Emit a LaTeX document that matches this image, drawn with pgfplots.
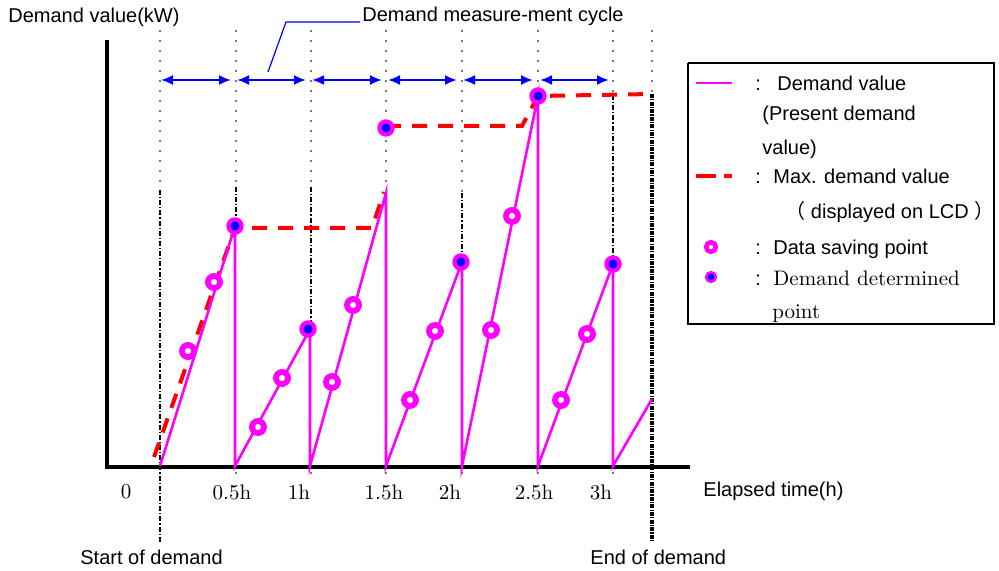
\documentclass[border=0pt]{standalone}
\usepackage{fontspec}
\usepackage{pgfplots}
\pgfplotsset{compat=1.18}
\usetikzlibrary{arrows.meta}
\newfontfamily\arial{Liberation Sans}
\newfontfamily\cjk{Noto Sans CJK JP}
\definecolor{dgray}{RGB}{120,120,120}
\definecolor{mg}{RGB}{255,0,255}
\definecolor{bl}{RGB}{0,0,255}
\definecolor{rd}{RGB}{255,0,0}
\begin{document}
\begin{tikzpicture}[x=0.5pt,y=0.5pt,
  sf/.style={font={\arial\fontsize{10}{12}\selectfont}, inner sep=0pt},
  rm/.style={font={\fontsize{10.5}{12}\selectfont}, inner sep=0pt}]
\useasboundingbox (0,0) rectangle (999,571);
\begin{axis}[at={(0,0)},anchor=south west, scale only axis,
  width=499.5pt, height=285.5pt,
  xmin=0,xmax=999,ymin=0,ymax=571, y dir=reverse, hide axis, clip=false,
  gdot/.style={dgray, line width=1.1pt, dash pattern=on 1pt off 4pt},
  bdash/.style={black, line width=0.8pt, dash pattern=on 2.5pt off 1pt on 0.6pt off 1pt},
  barrow/.style={bl, line width=1pt, {Latex[length=6pt,width=5pt]}-{Latex[length=6pt,width=5pt]}},
  redd/.style={rd, line width=2pt, dash pattern=on 7.5pt off 5.5pt},
  mag/.style={mg, line width=1.3pt},
  ring/.style={only marks, mark=*, mark size=3pt, mark options={draw=mg, fill=white, line width=2.9pt}},
  det/.style={only marks, mark=*, mark size=3.3pt, mark options={draw=mg, fill=bl, line width=2.1pt}},
]
% gray dotted guide lines
\addplot[gdot] coordinates {(160,30)(160,183)};
\addplot[gdot] coordinates {(236,30)(236,186)};
\addplot[gdot] coordinates {(311,30)(311,186)};
\addplot[gdot] coordinates {(386,30)(386,190)};
\addplot[gdot] coordinates {(462,30)(462,192)};
\addplot[gdot] coordinates {(538,30)(538,88)};
\addplot[gdot] coordinates {(613,30)(613,93)};
\addplot[gdot] coordinates {(652,30)(652,92)};
% small stubs below the x axis
\addplot[gdot] coordinates {(236,472)(236,478)};
\addplot[gdot] coordinates {(311,472)(311,478)};
\addplot[gdot] coordinates {(386,472)(386,478)};
\addplot[gdot] coordinates {(462,472)(462,478)};
\addplot[gdot] coordinates {(538,472)(538,478)};
\addplot[gdot] coordinates {(613,472)(613,478)};
% black dashed lines
\addplot[bdash] coordinates {(160,190)(160,542)};
\addplot[bdash] coordinates {(236,187)(236,222)};
\addplot[bdash] coordinates {(311,187)(311,325)};
\addplot[bdash] coordinates {(462,193)(462,258)};
\addplot[bdash] coordinates {(613,95)(613,260)};
\addplot[black, line width=1.6pt, dash pattern=on 2pt off 0.6pt on 0.6pt off 0.6pt] coordinates {(652,94)(652,542)};
% axes
\addplot[black, line width=1.6pt] coordinates {(107,40)(107,467)(690,467)};
% blue arrows
\addplot[barrow] coordinates {(161,80)(231,80)};
\addplot[barrow] coordinates {(237,80)(306,80)};
\addplot[barrow] coordinates {(312,80)(382,80)};
\addplot[barrow] coordinates {(388,80)(457,80)};
\addplot[barrow] coordinates {(463,80)(533,80)};
\addplot[barrow] coordinates {(540,80)(609,80)};
\addplot[bl, line width=0.6pt] coordinates {(268,72)(286,22)(360,22)};
% red max demand
\addplot[redd] coordinates {(154,457)(235,228)(372,228)(384,192)};
\addplot[redd] coordinates {(386,126)(522,126)(538,96)(653,94)};
% magenta demand value
\addplot[mag] coordinates {(160,466)(235,226)(235,466)(310,329)(310,466)(386,193)(386,466)(462,262)(462,466)(538,96)(538,466)(613,264)(613,466)(652,399)};
% markers
\addplot[ring] coordinates {(188,351)(214,282)(258,427)(282,378)(332,382)(353,305)(410,400)(435,331)(491,330)(512,216)(561,400)(587,334)};
\addplot[det] coordinates {(235,226)(308,329)(386,128)(461,262)(538,96)(613,264)};
% legend box
\addplot[black, line width=1.3pt] coordinates {(688,63)(994,63)(994,324)(688,324)(688,63)};
\addplot[mg, line width=0.7pt] coordinates {(696,83)(732,83)};
\addplot[rd, line width=2pt] coordinates {(696,176)(716,176)};
\addplot[rd, line width=2pt] coordinates {(724,176)(732,176)};
\addplot[only marks, mark=*, mark size=2.4pt, mark options={draw=mg, fill=white, line width=2.3pt}] coordinates {(711,247)};
\addplot[only marks, mark=*, mark size=2.4pt, mark options={draw=mg, fill=bl, line width=1.3pt}] coordinates {(711,277)};
% texts
\node[sf, anchor=west] at (axis cs:8,17) {Demand value(kW)};
\node[sf, anchor=west] at (axis cs:362,16) {Demand measure-ment cycle};
\node[sf, anchor=west] at (axis cs:703,491) {Elapsed time(h)};
\node[sf, anchor=west] at (axis cs:80,557) {Start of demand};
\node[sf, anchor=west] at (axis cs:590,557) {End of demand};
\node[rm] at (axis cs:126,492) {0};
\node[rm] at (axis cs:232,492) {0.5h};
\node[rm] at (axis cs:299,492) {1h};
\node[rm] at (axis cs:384,492) {1.5h};
\node[rm] at (axis cs:450,492) {2h};
\node[rm] at (axis cs:534,492) {2.5h};
\node[rm] at (axis cs:601,492) {3h};
% legend texts
\node[sf, anchor=west] at (axis cs:755,86) {\strut:};
\node[sf, anchor=west] at (axis cs:755,179) {\strut:};
\node[sf, anchor=west] at (axis cs:755,250) {\strut:};
\node[sf, anchor=west] at (axis cs:755,281) {\strut:};
\node[sf, anchor=west] at (axis cs:777,86) {\strut Demand value};
\node[sf, anchor=west] at (axis cs:762,116) {\strut(Present demand};
\node[sf, anchor=west] at (axis cs:762,150) {\strut value)};
\node[sf, anchor=west] at (axis cs:773,179) {\strut Max. demand value};
\node[sf, anchor=west] at (axis cs:785,214) {\strut{\cjk （} displayed on LCD {\cjk ）}};
\node[sf, anchor=west] at (axis cs:773,250) {\strut Data saving point};
\node[rm, anchor=west] at (axis cs:773,281) {\strut Demand determined};
\node[rm, anchor=west] at (axis cs:772,314) {\strut point};
\end{axis}
\end{tikzpicture}
\end{document}
